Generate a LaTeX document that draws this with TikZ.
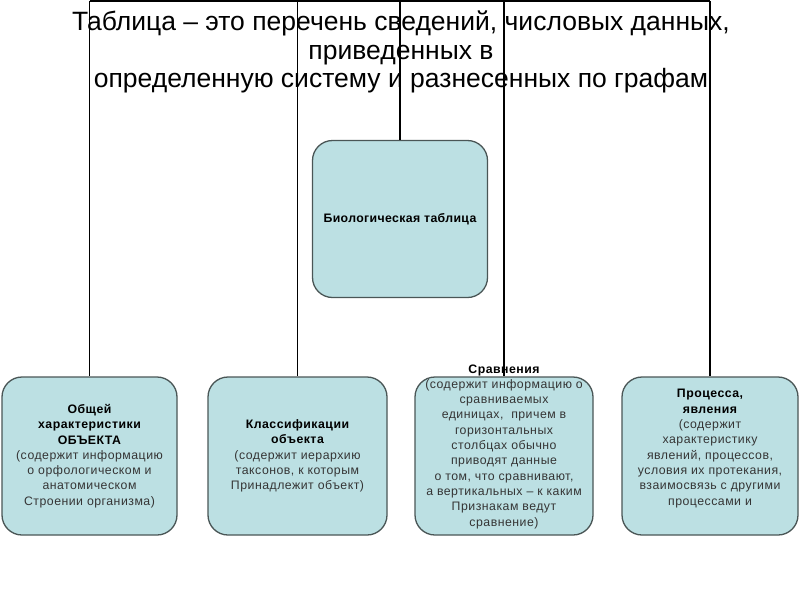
\documentclass[tikz,border=0pt]{standalone}
\usepackage{fontspec}
\setmainfont{Liberation Sans}
\definecolor{boxfill}{HTML}{BCE0E3}
\definecolor{boxline}{HTML}{4A5656}
\definecolor{bodytext}{HTML}{353535}
\begin{document}
\begin{tikzpicture}[x=1pt,y=-1pt,
  card/.style={draw=boxline,fill=boxfill,line width=1.3pt,rounded corners=20pt,inner sep=0pt},
  cardtext/.style={align=center,text=bodytext,font=\fontsize{12.3}{15.3}\selectfont\addfontfeatures{LetterSpace=4}},
  link/.style={black,line width=1.7pt}]
  \useasboundingbox (0,0) rectangle (800,600);
  % boxes
  \node[card,minimum width=175pt,minimum height=157pt] (bio) at (400,219) {};
  \node[card,minimum width=175pt,minimum height=158pt] (obj) at (89.5,456) {};
  \node[card,minimum width=179pt,minimum height=158pt] (cls) at (297.5,456) {};
  \node[card,minimum width=178pt,minimum height=158pt] (cmp) at (504,456) {};
  \node[card,minimum width=176pt,minimum height=158pt] (prc) at (710,456) {};
  % connectors from the top bar
  \coordinate (top) at (400,0.9);
  \draw[link] (obj.north |- top) -- (prc.north |- top);
  \draw[link] (obj.north |- top) -- (obj.north);
  \draw[link] (cls.north |- top) -- (cls.north);
  \draw[link] (cmp.north |- top) -- (cmp.north);
  \draw[link] (prc.north |- top) -- (prc.north);
  \draw[black,line width=2.8pt] (top) -- (bio.north);
  % title
  \node[align=center,font=\fontsize{26.5}{28.5}\selectfont] (title) at (401,52)
    {Таблица – это перечень сведений, числовых данных,\\приведенных в\\определенную систему и разнесенных по графам};
  % texts
  \node[cardtext,font=\bfseries\fontsize{12.3}{15.3}\selectfont\addfontfeatures{LetterSpace=3},text=black] (biotxt) at (bio.center) {Биологическая таблица};
  \node[cardtext] (objtxt) at (89.5,456)
    {\textbf{\color{black}Общей}\\\textbf{\color{black}характеристики}\\\textbf{\color{black}ОБЪЕКТА}\\(содержит информацию\\о орфологическом и\\анатомическом\\Строении организма)};
  \node[cardtext] (clstxt) at (297.5,456)
    {\textbf{\color{black}Классификации}\\\textbf{\color{black}объекта}\\(содержит иерархию\\таксонов, к которым\\Принадлежит объект)};
  \node[cardtext] (cmptxt) at (504,446.5)
    {\textbf{\color{black}Сравнения}\\(содержит информацию о\\сравниваемых\\единицах,~ причем в\\горизонтальных\\столбцах обычно\\приводят данные\\о том, что сравнивают,\\а вертикальных – к каким\\Признакам ведут\\сравнение)};
  \node[cardtext] (prctxt) at (710,448.5)
    {\textbf{\color{black}Процесса,}\\\textbf{\color{black}явления}\\(содержит\\характеристику\\явлений, процессов,\\условия их протекания,\\взаимосвязь с другими\\процессами и};
\end{tikzpicture}
\end{document}
